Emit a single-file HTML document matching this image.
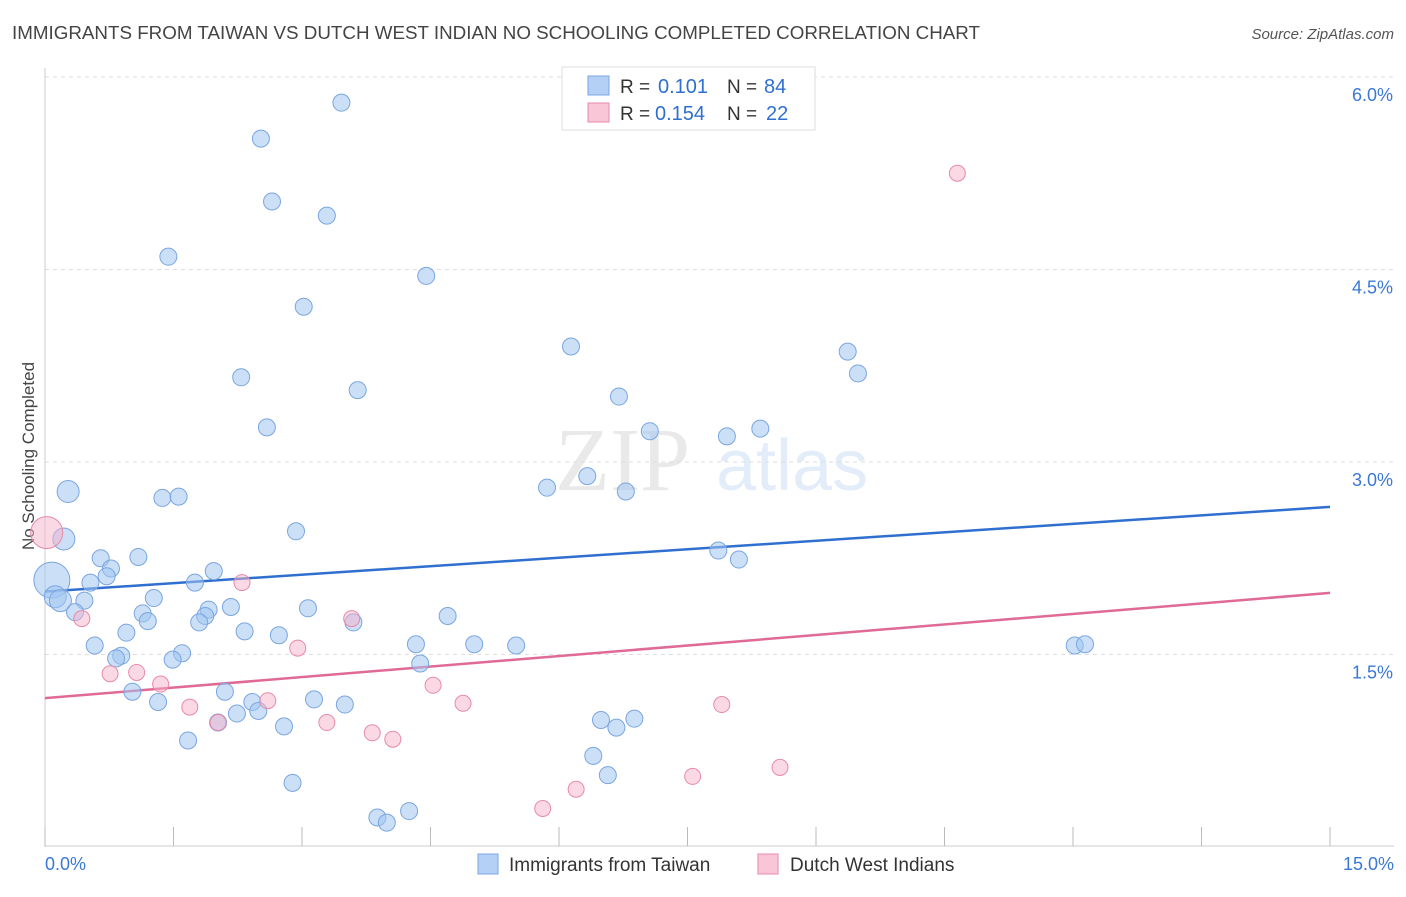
<!DOCTYPE html>
<html><head><meta charset="utf-8"><style>
body{margin:0;background:#fff;font-family:"Liberation Sans",sans-serif;}
</style></head><body>
<svg id="chart" width="1406" height="892" xmlns="http://www.w3.org/2000/svg">
<text x="12" y="39" font-size="18" fill="#444" textLength="968" lengthAdjust="spacingAndGlyphs">IMMIGRANTS FROM TAIWAN VS DUTCH WEST INDIAN NO SCHOOLING COMPLETED CORRELATION CHART</text>
<text x="1394" y="39" font-size="15" fill="#555" font-style="italic" text-anchor="end">Source: ZipAtlas.com</text>
<text transform="translate(34,456) rotate(-90)" font-size="17" fill="#444" text-anchor="middle">No Schooling Completed</text>
<g opacity="0.18">
<text x="555" y="490" font-size="90" font-family="Liberation Serif,serif" fill="#888">ZIP</text>
<text x="716" y="490" font-size="72" fill="#6a9ee0">atlas</text>
</g>
<g id="grid"></g><g id="axes"></g><g id="lines"></g><g id="pts"></g>
<g>
<rect x="562" y="67" width="253" height="63" fill="#fff" stroke="#ddd"/>
<rect x="588" y="76" width="21" height="19" fill="#b4d0f5" stroke="#7aa6e0"/>
<text x="620" y="93" font-size="19" fill="#333">R =</text>
<text x="658" y="93" font-size="20" fill="#2f6fd0">0.101</text>
<text x="727" y="93" font-size="19" fill="#333">N =</text>
<text x="764" y="93" font-size="20" fill="#2f6fd0">84</text>
<rect x="588" y="103" width="21" height="19" fill="#f8c6d6" stroke="#e88aa8"/>
<text x="620" y="120" font-size="19" fill="#333">R =</text>
<text x="655" y="120" font-size="20" fill="#2f6fd0">0.154</text>
<text x="727" y="120" font-size="19" fill="#333">N =</text>
<text x="766" y="120" font-size="20" fill="#2f6fd0">22</text>
</g>
<g>
<rect x="478" y="854" width="20" height="20" fill="#b4d0f5" stroke="#7aa6e0"/>
<text x="509" y="871" font-size="19" fill="#333">Immigrants from Taiwan</text>
<rect x="758" y="854" width="20" height="20" fill="#f8c6d6" stroke="#e88aa8"/>
<text x="790" y="871" font-size="19" fill="#333">Dutch West Indians</text>
</g>
</svg>
<script>
const blueX=[3.46,2.52,2.65,3.29,1.44,4.45,3.02,6.14,9.37,9.49,2.29,3.65,6.70,2.59,7.06,7.96,8.35,0.27,1.37,1.56,5.86,6.33,6.78,2.93,0.22,7.86,8.10,0.65,1.09,0.77,1.97,0.72,0.53,1.75,0.08,0.12,0.18,0.46,1.27,0.35,1.91,2.17,1.14,1.20,1.87,1.80,3.07,4.70,3.60,0.95,2.33,2.73,0.58,4.33,5.01,5.50,12.02,12.14,1.60,0.89,0.83,1.49,4.38,1.02,2.10,1.32,2.42,3.14,3.50,2.24,2.49,2.02,2.79,6.49,6.88,6.67,1.67,6.40,6.57,2.89,4.25,3.88,3.99];
const blueY=[5.80,5.52,5.03,4.92,4.60,4.45,4.21,3.90,3.86,3.69,3.66,3.56,3.51,3.27,3.24,3.20,3.26,2.77,2.72,2.73,2.80,2.89,2.77,2.46,2.40,2.31,2.24,2.25,2.26,2.17,2.15,2.11,2.06,2.06,2.08,1.95,1.92,1.92,1.94,1.83,1.85,1.87,1.82,1.76,1.80,1.75,1.86,1.80,1.75,1.67,1.68,1.65,1.57,1.58,1.58,1.57,1.57,1.58,1.51,1.49,1.47,1.46,1.43,1.21,1.21,1.13,1.13,1.15,1.11,1.04,1.06,0.97,0.94,0.99,1.00,0.93,0.83,0.71,0.56,0.50,0.28,0.23,0.19];
const pinkX=[10.65,0.02,2.30,0.43,3.58,2.95,1.07,0.76,1.35,4.53,4.88,2.60,1.69,7.90,2.02,3.29,3.82,4.06,8.58,7.56,6.20,5.81];
const pinkY=[5.25,2.45,2.06,1.78,1.78,1.55,1.36,1.35,1.27,1.26,1.12,1.14,1.09,1.11,0.97,0.97,0.89,0.84,0.62,0.55,0.45,0.30];
const blueTrend=[1.99,2.65];
const pinkTrend=[1.16,1.98];
const yTicks=[1.5,3.0,4.5,6.0];
const xTicks=[0,1.5,3,4.5,6,7.5,9,10.5,12,13.5,15];
const NS="http://www.w3.org/2000/svg";
const sx=v=>45+v/15*1285;
const sy=v=>847-v/1.5*192.5;
function mk(t,a,p){const e=document.createElementNS(NS,t);for(const k in a)e.setAttribute(k,a[k]);document.getElementById(p).appendChild(e);return e;}
yTicks.forEach(v=>{
 const l=mk('line',{x1:45,x2:1394,y1:sy(v),y2:sy(v),stroke:'#ddd','stroke-dasharray':'4,4'},'grid');
 
 
 const t=mk('text',{x:1393,y:sy(v)+24,'font-size':18,fill:'#3a78d8','text-anchor':'end'},'grid');
 t.textContent=v.toFixed(1)+'%';
 
 
});
mk('line',{x1:45,x2:45,y1:68,y2:847,stroke:'#ccc'},'axes');
mk('line',{x1:45,x2:1394,y1:846,y2:846,stroke:'#ccc'},'axes');
xTicks.forEach(v=>{
 const l=mk('line',{x1:sx(v),x2:sx(v),y1:827,y2:846,stroke:'#bbb'},'axes');
 
 
});
[[0,'start',45],[15,'end',1394]].forEach(([v,a,x])=>{
 const t=mk('text',{x:x,y:870,'font-size':18,fill:'#3a78d8','text-anchor':a},'axes');
 t.textContent=v.toFixed(1)+'%';
 
 
});
const bl=mk('line',{x1:sx(0),y1:sy(blueTrend[0]),x2:sx(15),y2:sy(blueTrend[1]),stroke:'#2f6fd0','stroke-width':2.5},'lines');


const pl=mk('line',{x1:sx(0),y1:sy(pinkTrend[0]),x2:sx(15),y2:sy(pinkTrend[1]),stroke:'#e06a96','stroke-width':2.5},'lines');


blueX.forEach((x,i)=>{
 const big=(x<0.1&&blueY[i]>2)?18:(x<0.3&&blueY[i]>1.9)?11:8.5;
 const c=mk('circle',{cx:sx(x),cy:sy(blueY[i]),r:big,fill:'rgba(160,196,240,0.55)',stroke:'#7aa6e0','stroke-width':1},'pts');
 
 
});
pinkX.forEach((x,i)=>{
 const r=(x<0.1)?16:8;
 const c=mk('circle',{cx:sx(x),cy:sy(pinkY[i]),r:r,fill:'rgba(245,180,202,0.5)',stroke:'#e88aa8','stroke-width':1},'pts');
 
 
});
</script>
</body></html>
